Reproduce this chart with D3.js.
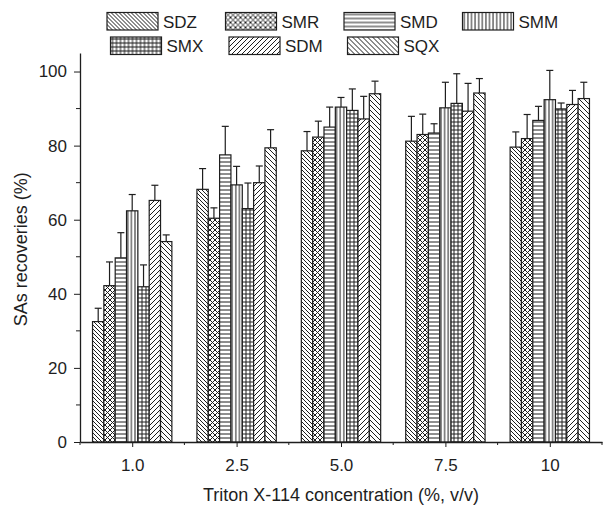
<!DOCTYPE html>
<html>
<head>
<meta charset="utf-8">
<script src="https://cdn.jsdelivr.net/npm/d3@7"></script>
<style>
  body { margin: 0; background: #fff; }
  svg { display: block; font-family: "Liberation Sans", Arial, sans-serif; }
</style>
</head>
<body>
<div id="d3-container"></div>
<script>
// concentrations on the x axis
const categories = ['1.0', '2.5', '5.0', '7.5', '10']
const seriesNames = ['SDZ', 'SMR', 'SMD', 'SMM', 'SMX', 'SDM', 'SQX']

// recoveries (%) per series, one per concentration
const SDZ = [32.5, 68.2, 78.6, 81.2, 79.6]
const SMR = [42.2, 60.4, 82.3, 83.0, 81.9]
const SMD = [49.7, 77.5, 85.0, 83.4, 86.8]
const SMM = [62.4, 69.4, 90.4, 90.2, 92.4]
const SMX = [41.9, 63.0, 89.5, 91.4, 89.9]
const SDM = [65.2, 70.0, 87.2, 89.3, 91.1]
const SQX = [54.1, 79.4, 94.0, 94.2, 92.7]

// standard deviations (upper error bars)
const SDZ_err = [3.6, 5.6, 5.2, 6.7, 4.1]
const SMR_err = [6.4, 2.8, 4.3, 5.5, 6.5]
const SMD_err = [6.8, 7.7, 5.4, 2.5, 3.8]
const SMM_err = [4.4, 5.0, 2.6, 6.9, 7.9]
const SMX_err = [5.9, 6.9, 5.8, 8.0, 1.6]
const SDM_err = [4.1, 4.5, 6.1, 7.5, 3.8]
const SQX_err = [1.8, 4.9, 3.4, 3.9, 4.4]

const yTicks = [0, 20, 40, 60, 80, 100]

const values = { SDZ, SMR, SMD, SMM, SMX, SDM, SQX }
const errors = { SDZ: SDZ_err, SMR: SMR_err, SMD: SMD_err, SMM: SMM_err, SMX: SMX_err, SDM: SDM_err, SQX: SQX_err }

const data = []
seriesNames.forEach(s => {
    categories.forEach((c, i) => {
        data.push({ series: s, group: i, value: values[s][i], err: errors[s][i] })
    })
})

const width = 605
const height = 509
const margin = { top: 53, bottom: 67, left: 80, right: 3 }
const ink = '#1e1e1e'

const svg = d3.select('#d3-container')
    .append('svg')
    .attr('width', width)
    .attr('height', height)

// hatch patterns
const defs = svg.append('defs')
function pattern(id, size, paths) {
    const p = defs.append('pattern')
        .attr('id', id)
        .attr('patternUnits', 'userSpaceOnUse')
        .attr('width', size)
        .attr('height', size)
    p.append('rect').attr('width', size).attr('height', size).attr('fill', '#fff')
    paths.forEach(d => p.append('path').attr('d', d)
        .attr('stroke', ink).attr('stroke-width', 1).attr('fill', 'none'))
}
pattern('p-SDZ', 4, ['M-1,-1 L5,5', 'M-1,3 L1,5', 'M3,-1 L5,1'])
pattern('p-SMR', 5, ['M-1,-1 L6,6', 'M-1,6 L6,-1'])
pattern('p-SMD', 4, ['M0,2 L4,2'])
pattern('p-SMM', 3.6, ['M1.8,0 L1.8,3.6'])
pattern('p-SMX', 4, ['M0,2 L4,2', 'M2,0 L2,4'])
pattern('p-SDM', 5, ['M-1,6 L6,-1', 'M-1,1 L1,-1', 'M4,6 L6,4'])
pattern('p-SQX', 5, ['M-1,-1 L6,6', 'M-1,4 L1,6', 'M4,-1 L6,1'])

const x = d3.scaleLinear()
    .domain([-0.5, 4.5])
    .range([margin.left, width - margin.right])

const groupW = (x(1) - x(0)) * 0.76
const xs = d3.scaleBand()
    .domain(seriesNames)
    .range([-groupW / 2, groupW / 2])

const y = d3.scaleLinear()
    .domain([0, 105])
    .range([height - margin.bottom, margin.top])

// bars
svg.append('g')
    .selectAll('rect')
    .data(data)
    .join('rect')
        .attr('x', d => x(d.group) + xs(d.series))
        .attr('y', d => y(d.value))
        .attr('width', xs.bandwidth())
        .attr('height', d => y(0) - y(d.value))
        .attr('fill', d => `url(#p-${d.series})`)
        .attr('stroke', ink)
        .attr('stroke-width', 1.2)

// error bars (upper only)
const eb = svg.append('g').attr('stroke', ink).attr('stroke-width', 1.2)
eb.selectAll('line.v')
    .data(data)
    .join('line')
        .attr('class', 'v')
        .attr('x1', d => x(d.group) + xs(d.series) + xs.bandwidth() / 2)
        .attr('x2', d => x(d.group) + xs(d.series) + xs.bandwidth() / 2)
        .attr('y1', d => y(d.value))
        .attr('y2', d => y(d.value + d.err))
eb.selectAll('line.c')
    .data(data)
    .join('line')
        .attr('class', 'c')
        .attr('x1', d => x(d.group) + xs(d.series) + xs.bandwidth() / 2 - 3.5)
        .attr('x2', d => x(d.group) + xs(d.series) + xs.bandwidth() / 2 + 3.5)
        .attr('y1', d => y(d.value + d.err))
        .attr('y2', d => y(d.value + d.err))

// axes
function yAxis(g) {
    g.attr('transform', `translate(${margin.left},0)`)
        .call(d3.axisLeft(y).tickValues(yTicks).tickSize(6).tickPadding(7).tickSizeOuter(0))
        .call(g => g.selectAll('text').attr('font-size', '17px').attr('fill', ink))
    g.selectAll('.minor')
        .data([10, 30, 50, 70, 90])
        .join('line')
            .attr('class', 'minor')
            .attr('x1', -4).attr('x2', 0)
            .attr('y1', d => y(d)).attr('y2', d => y(d))
            .attr('stroke', ink)
}

function xAxis(g) {
    g.attr('transform', `translate(0,${height - margin.bottom})`)
        .call(d3.axisBottom(x).tickValues(d3.range(categories.length))
            .tickFormat(i => categories[i]).tickSize(5).tickPadding(12).tickSizeOuter(0))
        .call(g => g.selectAll('text').attr('font-size', '17px').attr('fill', ink))
    g.selectAll('.minor')
        .data(d3.range(-0.5, 4.6, 1))
        .join('line')
            .attr('class', 'minor')
            .attr('x1', d => x(d)).attr('x2', d => x(d))
            .attr('y1', 0).attr('y2', 3)
            .attr('stroke', ink)
}

svg.append('g').call(xAxis)
svg.append('g').call(yAxis)
svg.selectAll('.domain').attr('stroke', ink).attr('stroke-width', 1.3)
svg.selectAll('.tick line').attr('stroke', ink)

// axis titles
svg.append('text')
    .attr('x', (margin.left + width - margin.right) / 2)
    .attr('y', 501)
    .attr('text-anchor', 'middle')
    .attr('font-size', '18px')
    .attr('fill', ink)
    .text('Triton X-114 concentration (%, v/v)')

svg.append('text')
    .attr('transform', `translate(27,${y(52)}) rotate(-90)`)
    .attr('text-anchor', 'middle')
    .attr('font-size', '18px')
    .attr('fill', ink)
    .text('SAs recoveries (%)')

// legend: two rows of four
const legend = svg.append('g')
    .selectAll('g')
    .data(seriesNames)
    .join('g')
        .attr('transform', (d, i) => {
            const row = Math.floor(i / 4), col = i % 4
            return `translate(${107 + col * 118.5 + row * 3.5},${12.5 + row * 24.5})`
        })

legend.append('rect')
    .attr('width', 51)
    .attr('height', 17.5)
    .attr('fill', d => `url(#p-${d})`)
    .attr('stroke', ink)
    .attr('stroke-width', 1.2)

legend.append('text')
    .attr('x', 56)
    .attr('y', 15)
    .attr('font-size', '17px')
    .attr('fill', ink)
    .text(d => d)
</script>
</body>
</html>
